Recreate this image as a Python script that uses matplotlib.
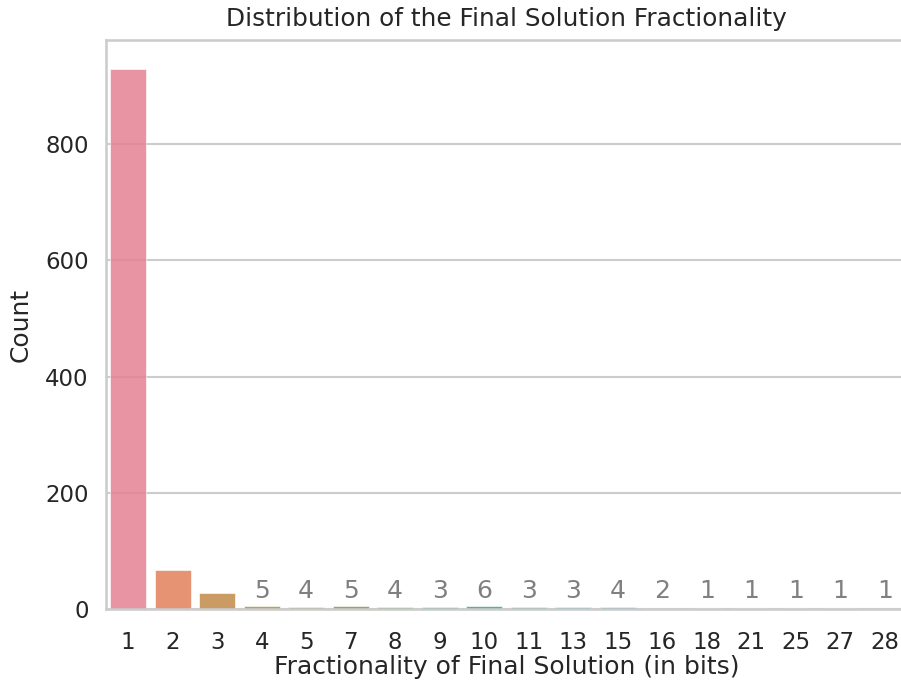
import numpy as np
import matplotlib
matplotlib.use("Agg")
import matplotlib.pyplot as plt
import seaborn as sns

# fractionality (bits) and how many solutions had it
bits = [1, 2, 3, 4, 5, 7, 8, 9, 10, 11, 13, 15, 16, 18, 21, 25, 27, 28]
counts = [930, 67, 28, 5, 4, 5, 4, 3, 6, 3, 3, 4, 2, 1, 1, 1, 1, 1]
label_cutoff = 20

sns.set_theme(style="whitegrid", context="talk")

fig = plt.figure(figsize=(9.01, 6.82), dpi=100)
ax = fig.add_axes([0.1176, 0.107, 0.889, 0.834])

palette = sns.husl_palette(len(bits))
palette = [sns.desaturate(c, 0.75) for c in palette]
xs = np.arange(len(bits))
ax.bar(xs, counts, width=0.8, color=palette, alpha=0.85,
       edgecolor="white", linewidth=0.5)

# small bars are barely visible, so write their count above them
for x, c in zip(xs, counts):
    if c < label_cutoff:
        ax.text(x, 11, str(c), ha="center", va="bottom", color="gray", fontsize=18)

ax.set_xticks(xs)
ax.set_xticklabels([str(b) for b in bits])
ax.tick_params(axis="x", pad=6.5)
ax.set_xlim(-0.5, len(bits) - 0.5)
ax.set_ylim(0, 979)
ax.set_yticks([0, 200, 400, 600, 800])
ax.xaxis.grid(False)
ax.set_xlabel("Fractionality of Final Solution (in bits)", labelpad=1)
ax.set_ylabel("Count", labelpad=9)
ax.set_title("Distribution of the Final Solution Fractionality", pad=10, fontsize=17.8)

fig.savefig("out.png", dpi=100)
